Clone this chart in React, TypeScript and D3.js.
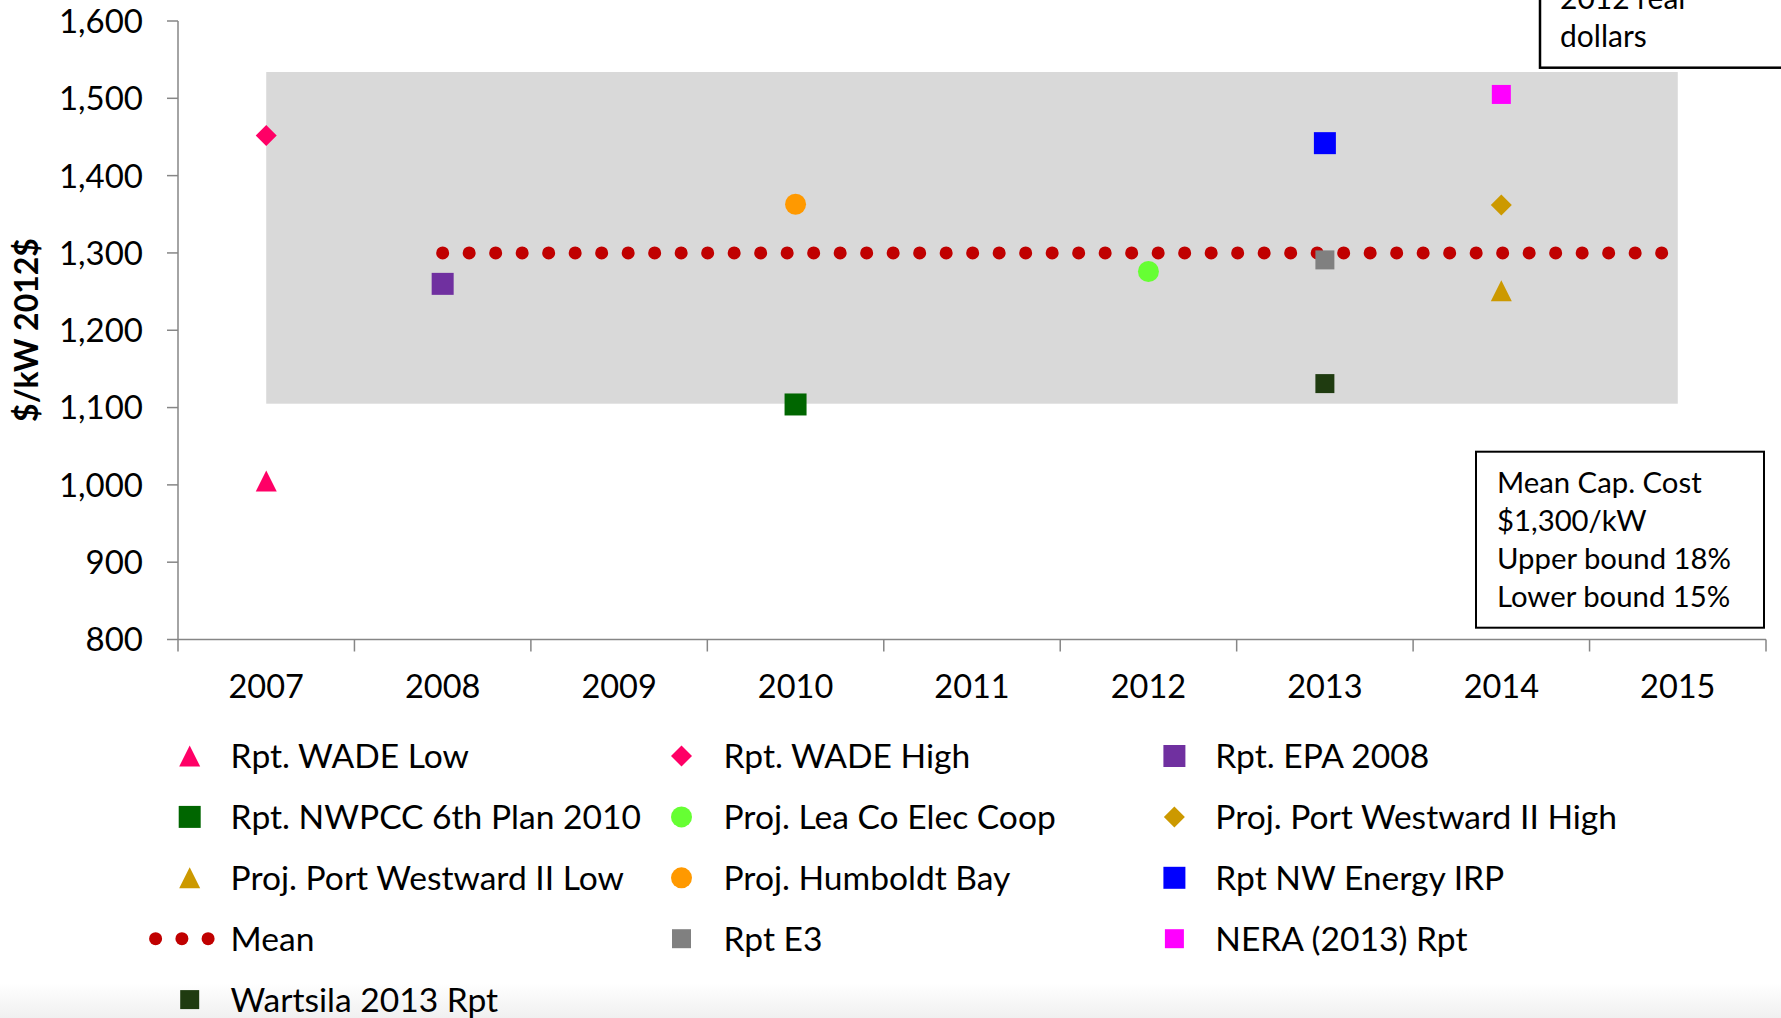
import React, { useEffect } from 'react';
import * as d3 from 'd3';

const years = ['2007', '2008', '2009', '2010', '2011', '2012', '2013', '2014', '2015'];
const yTicks = [800, 900, 1000, 1100, 1200, 1300, 1400, 1500, 1600];

const pointNames = [
  'Rpt. WADE Low', 'Rpt. WADE High', 'Rpt. EPA 2008', 'Rpt. NWPCC 6th Plan 2010',
  'Proj. Lea Co Elec Coop', 'Proj. Port Westward II High', 'Proj. Port Westward II Low',
  'Proj. Humboldt Bay', 'Rpt NW Energy IRP', 'Rpt E3', 'NERA (2013) Rpt', 'Wartsila 2013 Rpt',
];
const pointYears = ['2007', '2007', '2008', '2010', '2012', '2014', '2014', '2010', '2013', '2013', '2014', '2013'];
const pointValues = [1005, 1452, 1260, 1104, 1276, 1362, 1251, 1363, 1442, 1291, 1505, 1131];

const meanYears = ['2008', '2009', '2010', '2011', '2012', '2013', '2014', '2015'];
const meanValues = [1300, 1300, 1300, 1300, 1300, 1300, 1300, 1300];
const meanCost = 1300;
const upperPct = 0.18;
const lowerPct = 0.15;
const bandYears = ['2007', '2015'];

const legendOrder = [
  'Rpt. WADE Low', 'Rpt. WADE High', 'Rpt. EPA 2008',
  'Rpt. NWPCC 6th Plan 2010', 'Proj. Lea Co Elec Coop', 'Proj. Port Westward II High',
  'Proj. Port Westward II Low', 'Proj. Humboldt Bay', 'Rpt NW Energy IRP',
  'Mean', 'Rpt E3', 'NERA (2013) Rpt',
  'Wartsila 2013 Rpt',
];

const boxLines = ['Mean Cap. Cost', '$1,300/kW', 'Upper bound 18%', 'Lower bound 15%'];
const noteLines = ['2012 real', 'dollars'];
const yTitle = '$/kW 2012$';

// styles (separate from data)
const markerStyles: Record<string, { shape: string; color: string; size: number }> = {
  'Rpt. WADE Low': { shape: 'triangle', color: '#FF0066', size: 21 },
  'Rpt. WADE High': { shape: 'diamond', color: '#FF0066', size: 21 },
  'Rpt. EPA 2008': { shape: 'square', color: '#7030A0', size: 22 },
  'Rpt. NWPCC 6th Plan 2010': { shape: 'square', color: '#006600', size: 22 },
  'Proj. Lea Co Elec Coop': { shape: 'circle', color: '#66FF33', size: 21 },
  'Proj. Port Westward II High': { shape: 'diamond', color: '#CC9900', size: 21 },
  'Proj. Port Westward II Low': { shape: 'triangle', color: '#CC9900', size: 21 },
  'Proj. Humboldt Bay': { shape: 'circle', color: '#FF9900', size: 21 },
  'Rpt NW Energy IRP': { shape: 'square', color: '#0000FF', size: 22 },
  'Rpt E3': { shape: 'square', color: '#808080', size: 19 },
  'NERA (2013) Rpt': { shape: 'square', color: '#FF00FF', size: 19 },
  'Wartsila 2013 Rpt': { shape: 'square', color: '#1F3B10', size: 19 },
};
const meanColor = '#C00000';

const W = 1781;
const H = 1018;
const FONT = "Lato, 'Open Sans', sans-serif";
const AXIS = '#868686';

function markerPath(shape: string, s: number): string {
  const h = s / 2;
  if (shape === 'square') return `M${-h},${-h}h${s}v${s}h${-s}Z`;
  if (shape === 'diamond') return `M0,${-h}L${h},0L0,${h}L${-h},0Z`;
  if (shape === 'triangle') return `M0,${-h}L${h},${h}L${-h},${h}Z`;
  return d3.arc()({ innerRadius: 0, outerRadius: h, startAngle: 0, endAngle: 2 * Math.PI }) as string;
}

export default function App() {
  useEffect(() => {
    document.body.style.margin = '0';
  }, []);

  const x = d3.scaleBand<string>().domain(years).range([178, 1766]).padding(0);
  const bw = x.bandwidth();
  const cx = (yr: string) => (x(yr) as number) + bw / 2;
  const y = d3.scaleLinear().domain([800, 1600]).range([639.5, 21]);
  const fmt = d3.format(',');

  const upper = meanCost * (1 + upperPct);
  const lower = meanCost * (1 - lowerPct);

  const meanLine = d3.line<number>()
    .x((_, i) => cx(meanYears[i]))
    .y((d) => y(d))(meanValues) as string;

  const legendMarkerX = [189.7, 681.5, 1174.4];
  const legendTextX = [230.6, 723.5, 1215.3];
  const legendTop = 756;
  const legendGap = 60.9;
  const meanLegendDots = [155.6, 181.9, 208.1];

  const tickBounds = [...years.map((yr) => x(yr) as number), 1766];

  return (
    <svg width={W} height={H} style={{ position: 'absolute', left: 0, top: 0, display: 'block', background: '#fff' }} fontFamily={FONT}>
      <defs>
        <linearGradient id="bottomFade" x1="0" y1="0" x2="0" y2="1">
          <stop offset="0" stopColor="#ffffff" />
          <stop offset="1" stopColor="#f0f0f0" />
        </linearGradient>
      </defs>
      <rect x={0} y={0} width={W} height={H} fill="#fff" />
      <rect x={0} y={983} width={W} height={H - 983} fill="url(#bottomFade)" />

      {/* shaded band */}
      <rect x={cx(bandYears[0])} y={y(upper)} width={cx(bandYears[1]) - cx(bandYears[0])} height={y(lower) - y(upper)} fill="#D9D9D9" />

      {/* y axis */}
      <line x1={178} x2={178} y1={y(1600)} y2={y(800)} stroke={AXIS} strokeWidth={1.5} />
      {yTicks.map((t) => (
        <g key={t}>
          <line x1={167} x2={178} y1={y(t)} y2={y(t)} stroke={AXIS} strokeWidth={1.5} />
          <text x={143} y={y(t)} dy="0.36em" textAnchor="end" fontSize={33} fill="#000">{fmt(t)}</text>
        </g>
      ))}
      <text transform="translate(38,330) rotate(-90)" textAnchor="middle" fontSize={32} fontWeight="bold" fill="#000">{yTitle}</text>

      {/* x axis */}
      <line x1={178} x2={1766} y1={y(800)} y2={y(800)} stroke={AXIS} strokeWidth={1.5} />
      {tickBounds.map((tx, i) => (
        <line key={i} x1={tx} x2={tx} y1={y(800)} y2={y(800) + 12} stroke={AXIS} strokeWidth={1.5} />
      ))}
      {years.map((yr) => (
        <text key={yr} x={cx(yr)} y={698} textAnchor="middle" fontSize={32.5} fill="#000">{yr}</text>
      ))}

      {/* mean line */}
      <path d={meanLine} fill="none" stroke={meanColor} strokeWidth={13} strokeLinecap="round" strokeDasharray="0 26.5" />

      {/* points */}
      {pointNames.map((n, i) => {
        const st = markerStyles[n];
        return (
          <path key={n} d={markerPath(st.shape, st.size)} fill={st.color}
            transform={`translate(${cx(pointYears[i])},${y(pointValues[i])})`} />
        );
      })}

      {/* note box top right */}
      <rect x={1540} y={-10} width={260} height={77.7} fill="#fff" stroke="#000" strokeWidth={2.5} />
      {noteLines.map((l, i) => (
        <text key={l} x={1560} y={9 + i * 38} fontSize={30} fill="#000">{l}</text>
      ))}

      {/* mean cap box */}
      <rect x={1476} y={451.7} width={288} height={176} fill="#fff" stroke="#000" strokeWidth={2} />
      {boxLines.map((l, i) => (
        <text key={l} x={1497} y={492.7 + i * 38.1} fontSize={29.3} fill="#000">{l}</text>
      ))}

      {/* legend */}
      {legendOrder.map((n, i) => {
        const col = i % 3;
        const row = Math.floor(i / 3);
        const ly = legendTop + row * legendGap;
        let marker;
        if (n === 'Mean') {
          marker = (
            <g>
              {meanLegendDots.map((dx) => (
                <circle key={dx} cx={dx} cy={ly} r={6.5} fill={meanColor} />
              ))}
            </g>
          );
        } else {
          const st = markerStyles[n];
          marker = <path d={markerPath(st.shape, st.size)} fill={st.color} transform={`translate(${legendMarkerX[col]},${ly})`} />;
        }
        return (
          <g key={n}>
            {marker}
            <text x={legendTextX[col]} y={ly} dy="0.36em" fontSize={33.6} fill="#000">{n}</text>
          </g>
        );
      })}
    </svg>
  );
}
